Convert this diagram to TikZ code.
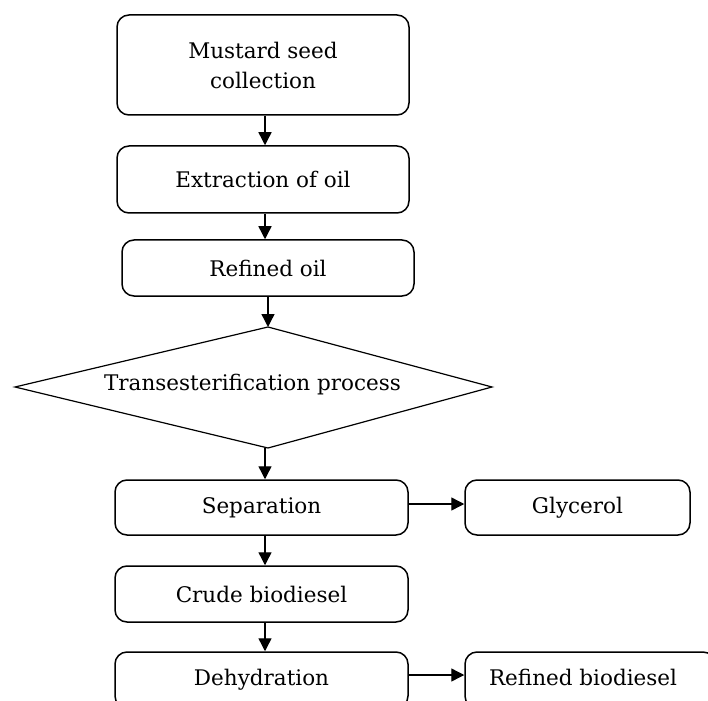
\documentclass[tikz,border=0pt]{standalone}
\usepackage{fontspec}
\setmainfont{DejaVu Serif}
\usetikzlibrary{arrows.meta}
\begin{document}
\begin{tikzpicture}[x=1pt,y=-1pt,
  box/.style={draw,line width=1.5pt,rounded corners=12pt,inner sep=0pt,align=center,font=\fontsize{21.5}{30}\selectfont},
  lbl/.style={inner sep=0pt,font=\fontsize{21.5}{30}\selectfont},
  arr/.style={line width=1.4pt,-{Triangle[length=13pt,width=13pt]}}]
\useasboundingbox (0,0) rectangle (708,700);
\clip (0,0) rectangle (708,700);
\node[box,minimum width=292pt,minimum height=100pt] (b1) at (263,65) {Mustard seed\\collection};
\node[box,minimum width=292pt,minimum height=67pt] (b2) at (263,179.5) {Extraction of oil};
\node[box,minimum width=292pt,minimum height=56pt] (b3) at (268,268) {Refined oil};
\coordinate (dT) at (268,327);
\coordinate (dB) at (268,448);
\coordinate (dL) at (15,387);
\coordinate (dR) at (492,387);
\draw[line width=1.2pt,line join=miter] (dT) -- (dR) -- (dB) -- (dL) -- cycle;
\node[lbl] (dtxt) at (252.5,385) {Transesterification process};
\node[box,minimum width=293pt,minimum height=55pt] (sep) at (261.5,507.5) {Separation};
\node[box,minimum width=225pt,minimum height=55pt] (gly) at (577.5,507.5) {Glycerol};
\node[box,minimum width=293pt,minimum height=56pt] (crude) at (261.5,594) {Crude biodiesel};
\node[box,minimum width=293pt,minimum height=56pt] (dehy) at (261.5,680) {Dehydration};
\node[box,minimum width=250pt,minimum height=56pt] (refb) at (590,680) {};
\node[lbl] (refbt) at (583,677) {Refined biodiesel};
\coordinate (a1) at (265,0);
\draw[arr] (b1.south -| a1) -- (b2.north -| a1);
\draw[arr] (b2.south -| a1) -- (b3.north -| a1);
\draw[arr] (b3.south -| dT) -- (dT);
\draw[arr] (dB -| a1) -- (sep.north -| a1);
\draw[arr] (sep.south -| a1) -- (crude.north -| a1);
\draw[arr] (crude.south -| a1) -- (dehy.north -| a1);
\coordinate (h1) at (0,504);
\draw[arr] (sep.east |- h1) -- (gly.west |- h1);
\coordinate (h2) at (0,675);
\draw[arr] (dehy.east |- h2) -- (refb.west |- h2);
\end{tikzpicture}
\end{document}
